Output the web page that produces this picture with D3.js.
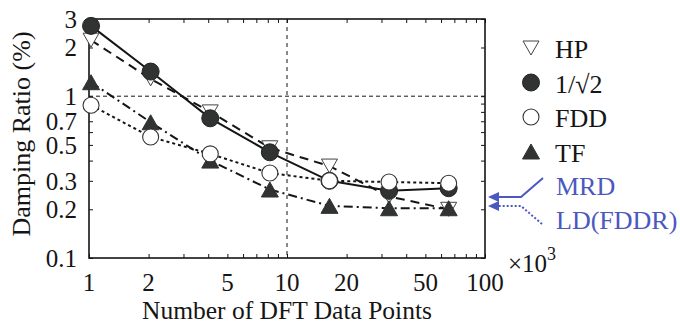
<!DOCTYPE html>
<html>
<head>
<meta charset="utf-8">
<script src="https://cdn.jsdelivr.net/npm/d3@7"></script>
<style>
  html, body { margin: 0; padding: 0; background: #fff; }
  svg { display: block; }
</style>
</head>
<body>
<svg id="chart" width="680" height="324"></svg>
<script>
// Number of DFT points (thousands): 1024, 2048, ... 65536
const dftPoints = [1.024, 2.048, 4.096, 8.192, 16.384, 32.768, 65.536];

// Damping ratio (%) for each identification method
const hpValues   = [2.22, 1.28, 0.80, 0.48, 0.37, 0.24, 0.20];
const rootValues = [2.72, 1.42, 0.73, 0.45, 0.30, 0.26, 0.27];
const fddValues  = [0.88, 0.56, 0.44, 0.335, 0.30, 0.295, 0.29];
const tfValues   = [1.22, 0.69, 0.40, 0.265, 0.21, 0.203, 0.203];

const xTickLabels = [1, 2, 5, 10, 20, 50, 100];
const yTickLabels = [0.1, 0.2, 0.3, 0.5, 0.7, 1, 2, 3];
const legendLabels = ["HP", "1/\u221A2", "FDD", "TF"];
const noteLabels = ["MRD", "LD(FDDR)"];

const FONT = "'Liberation Serif', 'Times New Roman', serif";

const svg = d3.select("#chart");
const plot = { left: 89, top: 19, right: 485, bottom: 258 };

const x = d3.scaleLog().domain([1, 100]).range([plot.left, plot.right]);
const y = d3.scaleLog().domain([0.1, 3]).range([plot.bottom, plot.top]);

const ink = "#151515";
const markFill = "#303331";
const blue = "#4b58bf";

function label(parent) {
  return parent.append("text").attr("font-family", FONT).attr("fill", ink);
}

// Grid lines at 10 (x) and 1 (y)
svg.append("line")
  .attr("x1", x(10)).attr("x2", x(10))
  .attr("y1", plot.top).attr("y2", plot.bottom)
  .attr("stroke", ink).attr("stroke-width", 1)
  .attr("stroke-dasharray", "4,4");
svg.append("line")
  .attr("x1", plot.left).attr("x2", plot.right)
  .attr("y1", y(1)).attr("y2", y(1))
  .attr("stroke", ink).attr("stroke-width", 1)
  .attr("stroke-dasharray", "4,3");

// Minor/major ticks on all four sides, pointing inward
const xTicks = [];
for (const d of [1, 10]) for (let k = 1; k < 10; k++) xTicks.push(d * k);
xTicks.push(100);
const yTicks = [];
for (let k = 1; k < 10; k++) yTicks.push(k / 10);
yTicks.push(1, 2, 3);

const axisBottom = d3.axisBottom(x).tickValues(xTicks).tickSize(-4).tickFormat("");
const axisTop = d3.axisTop(x).tickValues(xTicks).tickSize(-4).tickFormat("");
const axisLeft = d3.axisLeft(y).tickValues(yTicks).tickSize(-4).tickFormat("");
const axisRight = d3.axisRight(y).tickValues(yTicks).tickSize(-4).tickFormat("");

function styleAxis(g) {
  g.select(".domain").remove();
  g.selectAll("text").remove();
  g.selectAll("line").attr("stroke", ink).attr("stroke-width", 1);
}
svg.append("g").attr("transform", `translate(0,${plot.bottom})`).call(axisBottom).call(styleAxis);
svg.append("g").attr("transform", `translate(0,${plot.top})`).call(axisTop).call(styleAxis);
svg.append("g").attr("transform", `translate(${plot.left},0)`).call(axisLeft).call(styleAxis);
svg.append("g").attr("transform", `translate(${plot.right},0)`).call(axisRight).call(styleAxis);

// Frame
svg.append("rect")
  .attr("x", plot.left).attr("y", plot.top)
  .attr("width", plot.right - plot.left).attr("height", plot.bottom - plot.top)
  .attr("fill", "none").attr("stroke", ink).attr("stroke-width", 1.6);

// Tick labels
xTickLabels.forEach(d => {
  label(svg).attr("x", x(d)).attr("y", 291)
    .attr("text-anchor", "middle").attr("font-size", 25).text(d);
});
yTickLabels.forEach(d => {
  label(svg).attr("x", 77).attr("y", y(d) + 9)
    .attr("text-anchor", "end").attr("font-size", 25).text(d);
});

// Scale factor note
const mult = label(svg).attr("x", 508).attr("y", 272).attr("font-size", 25);
mult.append("tspan").text("\u00D710");
mult.append("tspan").attr("dy", -12).attr("font-size", 18).text("3");

// Axis titles
label(svg)
  .attr("x", (plot.left + plot.right) / 2).attr("y", 319)
  .attr("text-anchor", "middle").attr("font-size", 25.5)
  .text("Number of DFT Data Points");
label(svg)
  .attr("transform", "translate(30,134) rotate(-90)")
  .attr("text-anchor", "middle").attr("font-size", 26)
  .text("Damping Ratio (%)");

// Series
const series = [
  { key: "HP", values: hpValues, dash: "9,6", marker: "down" },
  { key: "root", values: rootValues, dash: null, marker: "dot" },
  { key: "TF", values: tfValues, dash: "9,4,2,4", marker: "up" },
  { key: "FDD", values: fddValues, dash: "3,3", marker: "ring" }
];

const line = d3.line().x(d => x(d[0])).y(d => y(d[1]));

series.forEach(s => {
  svg.append("path")
    .datum(dftPoints.map((p, i) => [p, s.values[i]]))
    .attr("d", line)
    .attr("fill", "none")
    .attr("stroke", ink)
    .attr("stroke-width", 2)
    .attr("stroke-dasharray", s.dash);
});

const triDown = d3.symbol().type({
  draw(ctx) {
    const w = 8, h = 7;
    ctx.moveTo(-w, -h); ctx.lineTo(w, -h); ctx.lineTo(0, h); ctx.closePath();
  }
})();
const triUp = d3.symbol().type({
  draw(ctx) {
    const w = 8.5, h = 7.5;
    ctx.moveTo(-w, h); ctx.lineTo(w, h); ctx.lineTo(0, -h); ctx.closePath();
  }
})();

function drawMarker(g, kind) {
  if (kind === "down") {
    g.append("path").attr("d", triDown).attr("fill", "#fff")
      .attr("stroke", "#444").attr("stroke-width", 1);
  } else if (kind === "up") {
    g.append("path").attr("d", triUp).attr("fill", markFill)
      .attr("stroke", markFill).attr("stroke-width", 1);
  } else if (kind === "dot") {
    g.append("circle").attr("r", 8.5).attr("fill", markFill)
      .attr("stroke", "#222").attr("stroke-width", 1);
  } else {
    g.append("circle").attr("r", 8).attr("fill", "#fff")
      .attr("stroke", "#333").attr("stroke-width", 1.1);
  }
}

series.forEach(s => {
  dftPoints.forEach((p, i) => {
    const g = svg.append("g").attr("transform", `translate(${x(p)},${y(s.values[i])})`);
    drawMarker(g, s.marker);
  });
});

// Legend
const legendKinds = ["down", "dot", "ring", "up"];
legendLabels.forEach((text, i) => {
  const cy = 48 + i * 34.5;
  const g = svg.append("g").attr("transform", `translate(531,${cy})`);
  drawMarker(g, legendKinds[i]);
  label(svg).attr("x", 555).attr("y", cy + 10)
    .attr("font-size", 26).text(text);
});

// Reference-value notes pointing at the right axis
noteLabels.forEach((text, i) => {
  label(svg).attr("x", 556).attr("y", 195 + i * 34)
    .attr("font-size", 26).attr("fill", blue).text(text);
});
svg.append("path")
  .attr("d", "M543,178 L521,197 L496,197")
  .attr("fill", "none").attr("stroke", blue).attr("stroke-width", 2);
svg.append("path")
  .attr("d", "M542,224 L521,206 L496,206")
  .attr("fill", "none").attr("stroke", blue).attr("stroke-width", 2)
  .attr("stroke-dasharray", "2,2");
[197, 206].forEach(yy => {
  svg.append("path")
    .attr("d", `M488,${yy} L499,${yy - 5} L499,${yy + 5} Z`)
    .attr("fill", blue);
});
</script>
</body>
</html>
